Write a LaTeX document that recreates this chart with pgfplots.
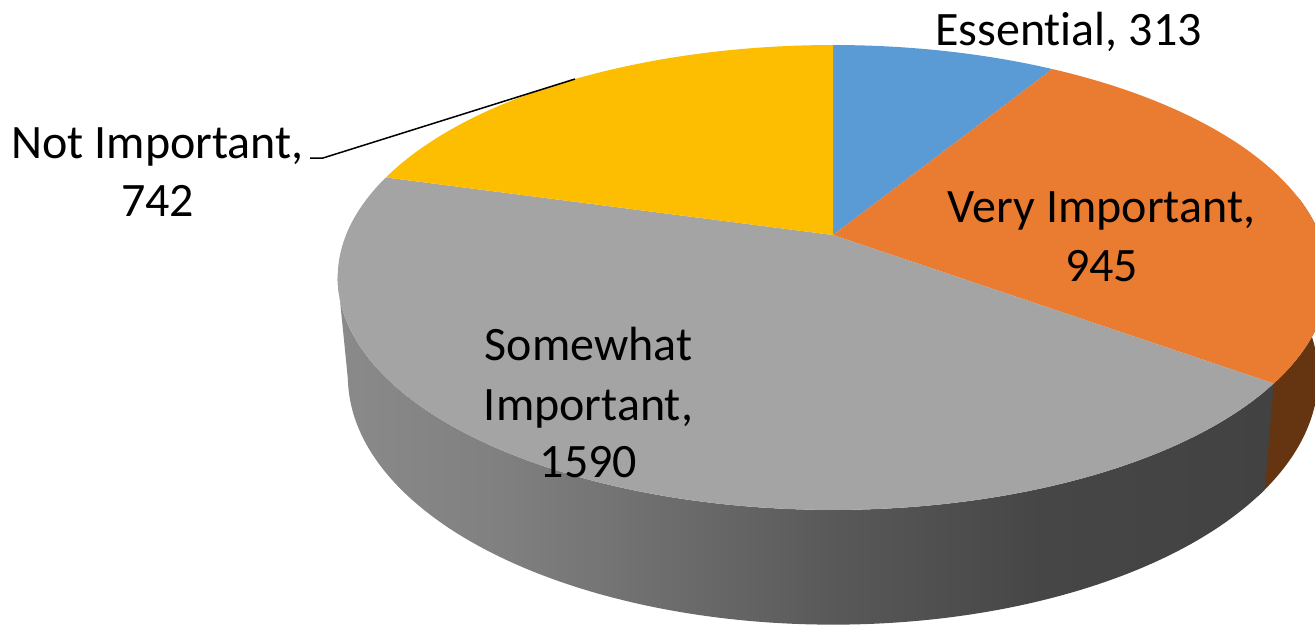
\documentclass[border=0pt]{standalone}
\usepackage{fontspec}
\setmainfont[Ligatures=NoCommon]{Carlito}
\usepackage{pgfplots}
\usepackage{pgfplotstable}
\pgfplotsset{compat=1.18}

\definecolor{pieblue}{HTML}{5B9BD5}
\definecolor{pieorange}{HTML}{E97C30}
\definecolor{piegray}{HTML}{A4A4A4}
\definecolor{pieyellow}{HTML}{FDBD00}
\definecolor{sideorange}{HTML}{643510}

% Survey answers, clockwise from twelve o'clock
\pgfplotstableread{
answer count
Essential 313
VeryImportant 945
SomewhatImportant 1590
NotImportant 742
}\answers
\pgfplotstablegetelem{0}{count}\of\answers \let\vA\pgfplotsretval
\pgfplotstablegetelem{1}{count}\of\answers \let\vB\pgfplotsretval
\pgfplotstablegetelem{2}{count}\of\answers \let\vC\pgfplotsretval
\pgfplotstablegetelem{3}{count}\of\answers \let\vD\pgfplotsretval
\pgfmathsetmacro{\total}{\vA+\vB+\vC+\vD}
\pgfmathsetmacro{\angA}{\vA/\total*360}
\pgfmathsetmacro{\angB}{(\vA+\vB)/\total*360}
\pgfmathsetmacro{\angC}{(\vA+\vB+\vC)/\total*360}
\pgfmathsetmacro{\angBover}{\angB+2}

% Horizontal light falloff along the rim; the path box spans 25bp to 75bp
\definecolor{rimA}{HTML}{8A8A8A}
\definecolor{rimB}{HTML}{808080}
\definecolor{rimC}{HTML}{707070}
\definecolor{rimD}{HTML}{585858}
\definecolor{rimE}{HTML}{464646}
\definecolor{rimF}{HTML}{424242}
\pgfdeclarehorizontalshading{rimgray}{100bp}{
  color(0bp)=(rimA);
  color(25bp)=(rimA);
  color(33.7bp)=(rimB);
  color(41.2bp)=(rimC);
  color(51.9bp)=(rimD);
  color(62.6bp)=(rimE);
  color(75bp)=(rimF);
  color(100bp)=(rimF)}

\newcommand{\lab}[3]{\node[anchor=base,inner sep=0pt,font=\fontsize{48}{48}\selectfont] at (axis cs:#1,#2) {#3};}

\begin{document}
\begin{tikzpicture}
\begin{axis}[
  scale only axis, width=1315pt, height=625pt,
  xmin=0, xmax=1315, ymin=0, ymax=625, y dir=reverse,
  hide axis, clip=true,
  % perspective view of the upper and lower faces; angle a runs clockwise from the top
  declare function={
    tx(\a)=833+487*sin(\a)/(1+0.1827*cos(\a));
    ty(\a)=235-224.7*cos(\a)/(1+0.1827*cos(\a));
    bx(\a)=833+477*sin(\a)/(1+0.1827*cos(\a));
    by(\a)=331-240*cos(\a)/(1+0.1827*cos(\a));
    % out along the upper edge for t<=1, back along the lower edge for t>1
    arcA(\t,\p,\q)=\p+(\q-\p)*(\t<=1 ? \t : 2-\t);
  },
]
% the page covers the whole plotting area
\path (axis cs:0,0) rectangle (axis cs:1315,625);

% rim of the two front slices; the orange part runs slightly under the gray one
\addplot[draw=none, fill=sideorange, domain=0:2, samples=201, variable=\t]
  ({\t<=1 ? tx(arcA(\t,80,\angBover)) : bx(arcA(\t,80,\angBover))},
   {\t<=1 ? ty(arcA(\t,80,\angBover)) : by(arcA(\t,80,\angBover))}) -- cycle;
\addplot[draw=none, shading=rimgray, domain=0:2, samples=401, variable=\t]
  ({\t<=1 ? tx(arcA(\t,\angB,259.5)) : bx(arcA(\t,\angB,259.5))},
   {\t<=1 ? ty(arcA(\t,\angB,259.5)) : by(arcA(\t,\angB,259.5))}) -- cycle;

% upper face
\addplot[draw=none, fill=pieblue, domain=0:\angA, samples=60]
  ({tx(x)},{ty(x)}) -- (axis cs:833,235) -- cycle;
\addplot[draw=none, fill=pieorange, domain=\angA:\angB, samples=120]
  ({tx(x)},{ty(x)}) -- (axis cs:833,235) -- cycle;
\addplot[draw=none, fill=piegray, domain=\angB:\angC, samples=200]
  ({tx(x)},{ty(x)}) -- (axis cs:833,235) -- cycle;
\addplot[draw=none, fill=pieyellow, domain=\angC:360, samples=90]
  ({tx(x)},{ty(x)}) -- (axis cs:833,235) -- cycle;

% leader line of the outside label
\addplot[black, line width=1.5pt] coordinates {(310,158) (323,158) (575,79)};

\lab{1068.5}{45}{Essential, 313}
\lab{1101.5}{222}{Very Important,}
\lab{1101.5}{281}{945}
\lab{588.5}{360}{Somewhat}
\lab{588.5}{420}{Important,}
\lab{588.5}{477}{1590}
\lab{157.5}{158}{Not Important,}
\lab{157.5}{216}{742}
\end{axis}
\end{tikzpicture}
\end{document}
